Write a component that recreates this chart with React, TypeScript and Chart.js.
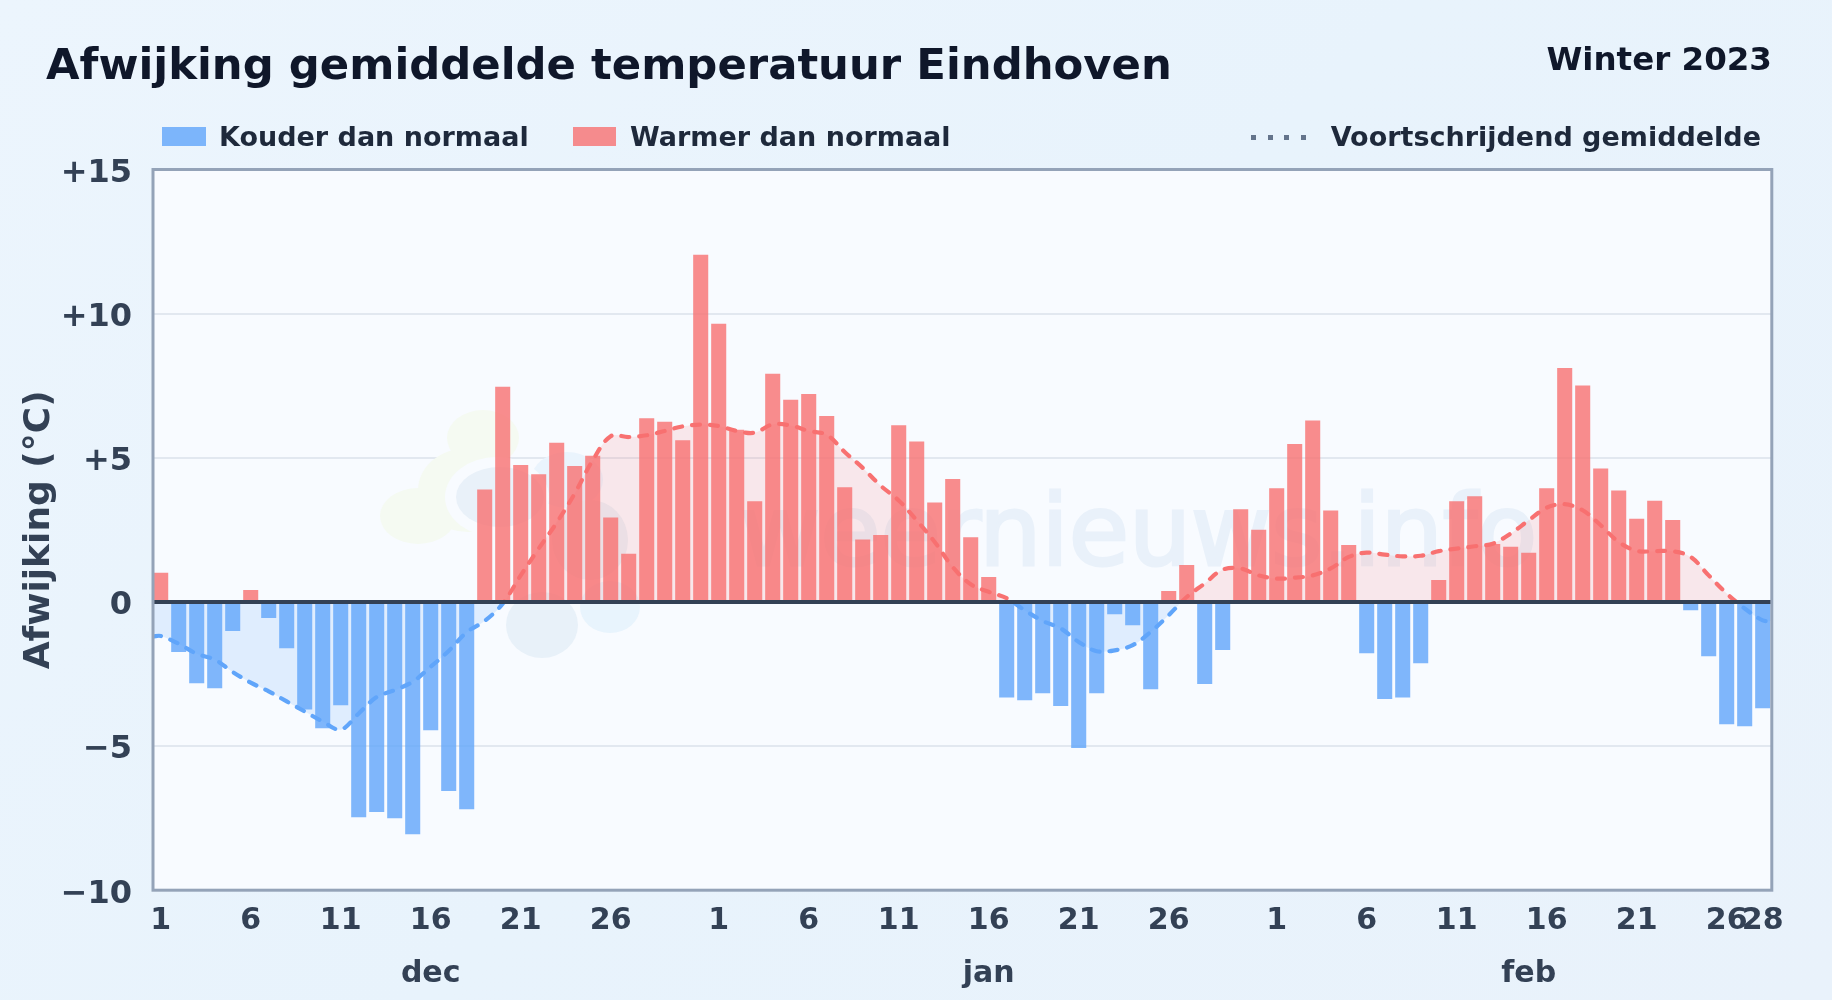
import React, { useEffect, useRef } from "react";
import { Chart, registerables } from "chart.js";

Chart.register(...registerables);

const FONT = "'DejaVu Sans', sans-serif";

const deviationDec = [1.0, -1.73, -2.81, -2.98, -1.0, 0.4, -0.55, -1.6, -3.72, -4.37, -3.57, -7.46, -7.28, -7.49, -8.05, -4.44, -6.55, -7.18, 3.89, 7.45, 4.74, 4.42, 5.51, 4.7, 5.06, 2.92, 1.66, 6.36, 6.24, 5.6, 12.03];
const deviationJan = [9.64, 5.96, 3.48, 7.9, 7.0, 7.2, 6.44, 3.97, 2.15, 2.31, 6.12, 5.55, 3.44, 4.25, 2.23, 0.85, -3.3, -3.4, -3.16, -3.6, -5.06, -3.16, -0.42, -0.8, -3.02, 0.37, 1.27, -2.84, -1.66, 3.2, 2.49];
const deviationFeb = [3.93, 5.47, 6.28, 3.16, 1.96, -1.77, -3.36, -3.3, -2.12, 0.75, 3.48, 3.65, 2.0, 1.9, 1.69, 3.93, 8.1, 7.5, 4.62, 3.85, 2.87, 3.5, 2.83, -0.28, -1.87, -4.23, -4.3, -3.68];

const movingDec = [-1.18, -1.45, -1.8, -2.0, -2.43, -2.8, -3.1, -3.45, -3.8, -4.15, -4.43, -3.87, -3.3, -3.06, -2.77, -2.25, -1.7, -1.05, -0.66, -0.06, 0.92, 1.85, 2.75, 3.76, 4.91, 5.75, 5.72, 5.78, 5.93, 6.09, 6.15];
const movingJan = [6.1, 5.93, 5.87, 6.16, 6.12, 5.93, 5.8, 5.2, 4.65, 4.03, 3.52, 2.83, 2.08, 1.21, 0.61, 0.35, 0.13, -0.29, -0.66, -0.92, -1.39, -1.71, -1.68, -1.5, -1.04, -0.46, 0.17, 0.64, 1.12, 1.16, 0.92];
const movingFeb = [0.81, 0.84, 0.92, 1.16, 1.56, 1.71, 1.64, 1.58, 1.6, 1.76, 1.85, 1.93, 2.02, 2.37, 2.83, 3.27, 3.39, 3.18, 2.66, 2.08, 1.77, 1.76, 1.76, 1.56, 0.92, 0.29, -0.23, -0.64];
const movingAtLeftEdge = -1.2;
const movingAtRightEdge = -0.66;

const deviation = [...deviationDec, ...deviationJan, ...deviationFeb];
const moving = [...movingDec, ...movingJan, ...movingFeb];

const xMin = -0.428;
const xMax = 89.506;

const dayTickIndex = [0, 5, 10, 15, 20, 25, 31, 36, 41, 46, 51, 56, 62, 67, 72, 77, 82, 87, 89];
const dayTickLabel = ["1", "6", "11", "16", "21", "26", "1", "6", "11", "16", "21", "26", "1", "6", "11", "16", "21", "26", "28"];
const monthLabels = ["dec", "jan", "feb"];
const monthCentres = [15, 46, 76];

const yMin = -10;
const yMax = 15;
const yStep = 5;

const TITLE = "Afwijking gemiddelde temperatuur Eindhoven";
const SUBTITLE = "Winter 2023";
const LEGEND_COLD = "Kouder dan normaal";
const LEGEND_WARM = "Warmer dan normaal";
const LEGEND_AVG = "Voortschrijdend gemiddelde";
const AXIS_TITLE = "Afwijking (°C)";
const WATERMARK = "weernieuws.info";

const formatY = (v: number) => (v > 0 ? "+" + v : v < 0 ? "\u2212" + Math.abs(v) : "0");

const decorPlugin = {
  id: "decor",
  beforeDraw(chart: any) {
    const { ctx, chartArea: a } = chart;
    ctx.save();
    ctx.fillStyle = "#f8fbff";
    ctx.fillRect(a.left, a.top, a.right - a.left, a.bottom - a.top);
    ctx.restore();
  },
  beforeDatasetsDraw(chart: any) {
    const { ctx } = chart;
    ctx.save();
    const blob = (c: string, x: number, y: number, rx: number, ry: number, r = 0) => {
      ctx.fillStyle = c;
      ctx.beginPath();
      ctx.ellipse(x, y, rx, ry, r, 0, Math.PI * 2);
      ctx.fill();
    };
    const green = "#f5faf2";
    blob(green, 483, 438, 36, 28);
    blob(green, 418, 516, 38, 28);
    blob(green, 468, 490, 50, 42);
    blob("#eaf4fd", 567, 480, 36, 28);
    blob("#f8fbff", 497, 497, 52, 40);
    blob("#e9f1f9", 500, 497, 44, 30);
    blob("#e8f1f9", 542, 625, 36, 33);
    blob("#e8f4fd", 610, 607, 30, 26);
    blob("#e9f1f8", 590, 540, 38, 40);
    ctx.fillStyle = "#e9f1fa";
    ctx.strokeStyle = "#e9f1fa";
    ctx.lineWidth = 3;
    ctx.font = `98px ${FONT}`;
    ctx.textBaseline = "alphabetic";
    ctx.textAlign = "left";
    ctx.fillText(WATERMARK, 740, 565);
    ctx.strokeText(WATERMARK, 740, 565);
    ctx.restore();
  },
  afterDatasetsDraw(chart: any) {
    const { ctx, chartArea: a, scales } = chart;
    const y0 = scales.y.getPixelForValue(0);
    ctx.save();
    ctx.strokeStyle = "#334155";
    ctx.lineWidth = 4;
    ctx.beginPath();
    ctx.moveTo(a.left, y0);
    ctx.lineTo(a.right, y0);
    ctx.stroke();
    ctx.strokeStyle = "#94a3b8";
    ctx.lineWidth = 3;
    ctx.strokeRect(a.left, a.top, a.right - a.left, a.bottom - a.top);
    ctx.restore();
  },
  afterDraw(chart: any) {
    const { ctx, scales } = chart;
    ctx.save();
    ctx.fillStyle = "#334155";
    ctx.font = `bold 30px ${FONT}`;
    ctx.textAlign = "center";
    ctx.textBaseline = "alphabetic";
    monthLabels.forEach((m, i) => {
      ctx.fillText(m, scales.x.getPixelForValue(monthCentres[i]), 982);
    });
    ctx.restore();
  },
};

function lineGradient(context: any, pos: string, neg: string) {
  const chart = context.chart;
  const a = chart.chartArea;
  if (!a) return pos;
  const g = chart.ctx.createLinearGradient(0, a.top, 0, a.bottom);
  const f = (yMax - 0) / (yMax - yMin);
  g.addColorStop(0, pos);
  g.addColorStop(f, pos);
  g.addColorStop(f, neg);
  g.addColorStop(1, neg);
  return g;
}

const textBase: React.CSSProperties = {
  position: "absolute",
  fontFamily: FONT,
  fontWeight: 700,
  lineHeight: 1,
  whiteSpace: "nowrap",
};

export default function App() {
  const ref = useRef<HTMLCanvasElement>(null);
  useEffect(() => {
    document.body.style.margin = "0";
    const chart = new Chart(ref.current as HTMLCanvasElement, {
      type: "bar",
      data: {
        datasets: [
          {
            type: "bar",
            label: LEGEND_COLD + " / " + LEGEND_WARM,
            data: deviation.map((v, i) => ({ x: i, y: v })),
            backgroundColor: (c: any) =>
              c.raw && c.raw.y < 0 ? "rgba(96,165,250,0.8)" : "rgba(248,113,113,0.8)",
            barThickness: 14.4,
            borderWidth: 0,
            order: 1,
          },
          {
            type: "line",
            label: LEGEND_AVG,
            data: [
              { x: xMin, y: movingAtLeftEdge },
              ...moving.map((v, i) => ({ x: i, y: v })),
              { x: xMax, y: movingAtRightEdge },
            ],
            borderColor: (c: any) => lineGradient(c, "#f87171", "#60a5fa"),
            borderWidth: 4.2,
            borderDash: [8, 10],
            borderCapStyle: "round",
            tension: 0.35,
            pointRadius: 0,
            fill: {
              target: { value: 0 },
              above: "rgba(248,113,113,0.14)",
              below: "rgba(96,165,250,0.16)",
            },
            order: 2,
          },
        ] as any,
      },
      options: {
        animation: false,
        responsive: false,
        devicePixelRatio: 1,
        layout: { padding: { left: 0, top: 169.5, right: 60.2, bottom: 0 } },
        plugins: { legend: { display: false }, tooltip: { enabled: false }, title: { display: false } },
        scales: {
          x: {
            type: "linear",
            offset: false,
            min: xMin,
            max: xMax,
            grid: { display: false },
            border: { display: false },
            afterFit(scale: any) {
              scale.height = 109.8;
            },
            afterBuildTicks(scale: any) {
              scale.ticks = dayTickIndex.map((value) => ({ value }));
            },
            ticks: {
              autoSkip: false,
              maxRotation: 0,
              padding: 5,
              color: "#334155",
              font: { family: FONT, size: 30, weight: "bold" },
              callback: (v: any) => {
                const i = dayTickIndex.indexOf(Number(v));
                return i >= 0 ? dayTickLabel[i] : "";
              },
            },
          },
          y: {
            min: yMin,
            max: yMax,
            afterFit(scale: any) {
              scale.width = 153;
              const orig = scale._computeLabelItems.bind(scale);
              scale._computeLabelItems = (area: any) => {
                const items = orig(area);
                items.forEach((it: any) => {
                  it.options.translation = [it.options.translation[0], it.options.translation[1] + 2];
                });
                return items;
              };
            },
            grid: {
              color: "#e2e8f0",
              lineWidth: 2,
              drawTicks: false,
            },
            border: { display: false },
            ticks: {
              stepSize: yStep,
              padding: 21,
              color: "#334155",
              font: { family: FONT, size: 32, weight: "bold" },
              callback: (v: any) => formatY(Number(v)),
            },
            title: {
              display: true,
              text: AXIS_TITLE,
              color: "#334155",
              font: { family: FONT, size: 36, weight: "bold" },
              padding: { top: 18, bottom: 0 },
            },
          },
        },
      } as any,
      plugins: [decorPlugin],
    });
    return () => chart.destroy();
  }, []);

  return (
    <div
      style={{
        position: "relative",
        width: 1832,
        height: 1000,
        overflow: "hidden",
        background: "linear-gradient(135deg, #ecf5fd 0%, #e8f3fc 50%, #e9f2fb 100%)",
      }}
    >
      <canvas ref={ref} width={1832} height={1000} style={{ position: "absolute", left: 0, top: 0, display: "block" }} />
      <div style={{ ...textBase, left: 46, top: 42.5, fontSize: 43.35, color: "#0f172a" }}>{TITLE}</div>
      <div style={{ ...textBase, right: 60, top: 42.5, fontSize: 32.5, color: "#0f172a" }}>{SUBTITLE}</div>
      <div style={{ position: "absolute", left: 162, top: 127, width: 44, height: 19, background: "rgba(96,165,250,0.8)" }} />
      <div style={{ ...textBase, left: 219, top: 123, fontSize: 27, color: "#1e293b" }}>{LEGEND_COLD}</div>
      <div style={{ position: "absolute", left: 573, top: 127, width: 43, height: 19, background: "rgba(248,113,113,0.8)" }} />
      <div style={{ ...textBase, left: 630, top: 123, fontSize: 27, color: "#1e293b" }}>{LEGEND_WARM}</div>
      <div
        style={{
          position: "absolute",
          left: 1251,
          top: 135,
          width: 56,
          height: 5,
          background: "repeating-linear-gradient(90deg, #64748b 0 5px, transparent 5px 16.6px)",
        }}
      />
      <div style={{ ...textBase, right: 71, top: 123, fontSize: 27, color: "#1e293b" }}>{LEGEND_AVG}</div>
    </div>
  );
}
